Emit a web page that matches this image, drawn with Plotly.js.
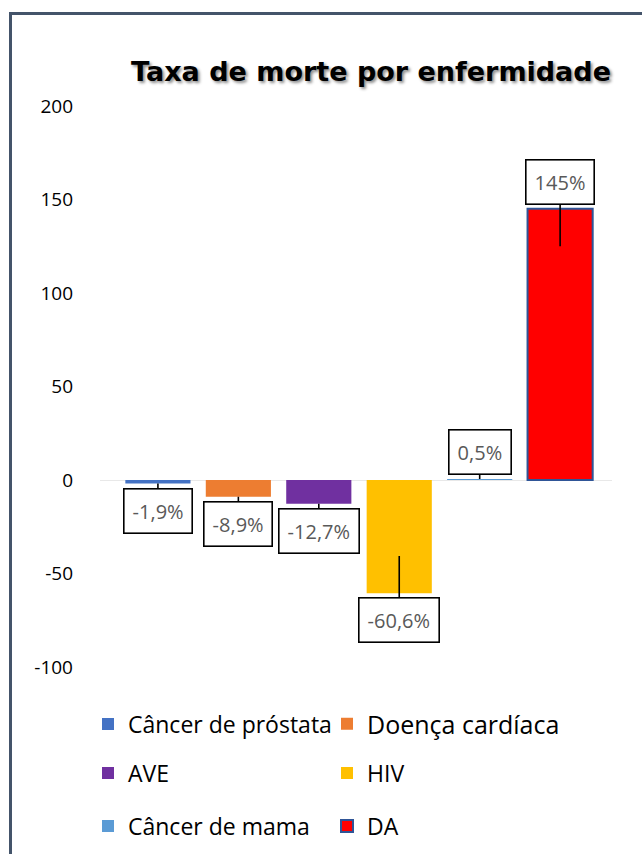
<!DOCTYPE html>
<html>
<head>
<meta charset="utf-8">
<script src="https://cdn.plot.ly/plotly-3.0.1.min.js"></script>
<style>
  html, body { margin: 0; padding: 0; background: #fff; }
  #wrap { position: relative; width: 642px; height: 854px; overflow: hidden; }
  #chart { width: 642px; height: 854px; }
  #frame { position: absolute; left: 9px; top: 12px; width: 700px; height: 900px;
           border-left: 3px solid #44546A; border-top: 3px solid #44546A; pointer-events: none; }
</style>
</head>
<body>
<div id="wrap">
  <div id="chart"></div>
  <div id="frame"></div>
</div>
<script>
const categories = ["Câncer de próstata", "Doença cardíaca", "AVE", "HIV", "Câncer de mama", "DA"];
const values = [-1.9, -8.9, -12.7, -60.6, 0.5, 145];
const valueLabels = ["-1,9%", "-8,9%", "-12,7%", "-60,6%", "0,5%", "145%"];
const yTickValues = [-100, -50, 0, 50, 100, 150, 200];

const colors = ["#4472C4", "#ED7D31", "#7030A0", "#FFC000", "#5B9BD5", "#FF0000"];
const lineColors = ["#4472C4", "#ED7D31", "#7030A0", "#FFC000", "#5B9BD5", "#2F5597"];
const lineWidths = [0, 0, 0, 0, 0, 2];
const nameSizes = [23, 25, 23, 23, 23, 23];

const FONT = "Open Sans, Noto Sans, sans-serif";

// legend slots: column left edge (px) and row centre (px)
const colLeft = [88, 327];
const rowMid = [724, 773, 826];

const traces = categories.map((c, i) => ({
  type: "bar",
  x: [c],
  y: [values[i]],
  name: c,
  legend: i === 0 ? "legend" : "legend" + (i + 1),
  marker: { color: colors[i], line: { color: lineColors[i], width: lineWidths[i] } },
  hoverinfo: "skip"
}));

const annotations = categories.map((c, i) => {
  const v = values[i];
  const big = Math.abs(v) > 50;
  const sign = v >= 0 ? 1 : -1;
  const tip = big ? v - sign * 20 : v;
  return {
    x: c, y: tip, xref: "x", yref: "y",
    text: valueLabels[i],
    showarrow: true, arrowhead: 0, arrowwidth: 1.6, arrowcolor: "#000",
    ax: 0, ay: big ? sign * -64 : sign * -27,
    bgcolor: "#fff", bordercolor: "#000", borderwidth: 1.6, borderpad: 8,
    font: { family: FONT, size: 20, color: "#595959" }
  };
});

const layout = {
  width: 642, height: 854,
  margin: { l: 100, r: 30, t: 106, b: 187 },
  paper_bgcolor: "#fff", plot_bgcolor: "#fff",
  showlegend: true,
  barmode: "overlay", bargap: 0.19,
  title: {
    text: "Taxa de morte por enfermidade",
    x: 371 / 642, xanchor: "center", xref: "container",
    y: 1 - 72 / 854, yanchor: "middle", yref: "container",
    font: { family: "DejaVu Sans, sans-serif", size: 27, weight: "bold", color: "#000",
            shadow: "2px 2px 3px rgba(0,0,0,0.45)" }
  },
  xaxis: {
    type: "category", range: [-0.72, 5.645], showticklabels: false,
    showgrid: false, zeroline: false, showline: false, ticks: "", fixedrange: true
  },
  yaxis: {
    range: [-100, 200], tickvals: yTickValues, ticktext: yTickValues.map(String),
    showgrid: false, zeroline: true, zerolinecolor: "#e8e8e8", zerolinewidth: 1,
    showline: false, ticks: "", ticklabelstandoff: 26,
    tickfont: { family: FONT, size: 19, color: "#000" }, fixedrange: true
  },
  annotations: annotations
};

categories.forEach((c, i) => {
  const key = i === 0 ? "legend" : "legend" + (i + 1);
  const col = i % 2, row = Math.floor(i / 2);
  layout[key] = {
    orientation: "h", xref: "paper", yref: "container", xanchor: "left", yanchor: "middle",
    x: (colLeft[col] - 100) / 512, y: 1 - rowMid[row] / 854,
    font: { family: FONT, size: nameSizes[i], color: "#000" },
    bgcolor: "rgba(0,0,0,0)", itemclick: false, itemdoubleclick: false
  };
});

Plotly.newPlot("chart", traces, layout, { displayModeBar: false, staticPlot: true });
</script>
</body>
</html>
